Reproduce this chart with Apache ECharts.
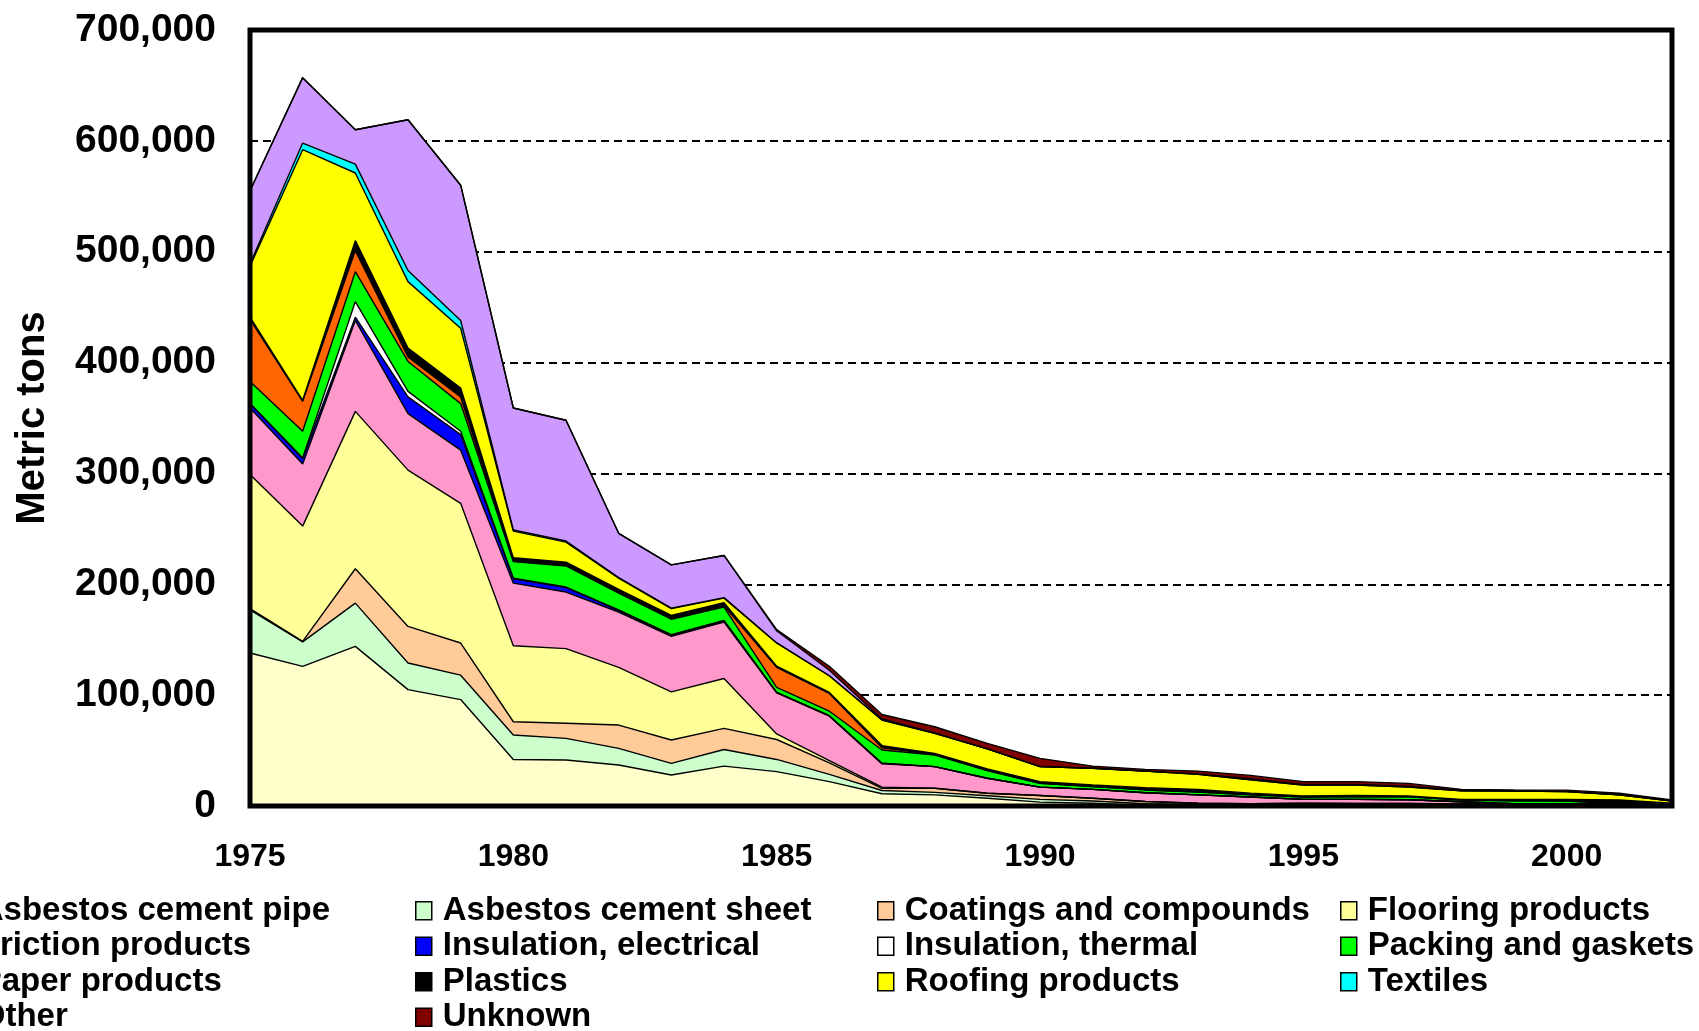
<!DOCTYPE html>
<html>
<head>
<meta charset="utf-8">
<script src="https://cdn.jsdelivr.net/npm/echarts@6/dist/echarts.min.js"></script>
<style>
html,body{margin:0;padding:0;background:#fff;}
#chart{width:1699px;height:1031px;}
</style>
</head>
<body>
<div id="chart"></div>
<script>
// ---- data (metric tons) ----
const years = ['1975','1976','1977','1978','1979','1980','1981','1982','1983','1984','1985','1986','1987','1988','1989','1990','1991','1992','1993','1994','1995','1996','1997','1998','1999','2000','2001','2002'];
const yTicks = [0,100000,200000,300000,400000,500000,600000,700000];

const cementPipe  = [138000,126000,144000,105000,96000,42000,41500,37000,28000,36000,31000,22000,11000,10000,7000,3500,2500,500,500,300,300,300,300,300,300,300,200,200];
const cementSheet = [39000,22000,39000,24000,22000,22000,19500,15000,10500,15000,11000,6500,3000,2300,2300,2500,2000,1500,1000,800,700,700,700,500,500,500,400,300];
const coatings    = [1000,500,31000,33000,29000,12000,13600,21000,21000,19000,18000,10500,2000,3700,2200,3500,2500,2000,1000,1000,1500,1400,1400,1000,1000,1000,800,500];
const flooring    = [121000,104000,142000,141000,126000,68600,67400,52000,43500,45000,5000,2000,1000,0,0,0,0,0,0,0,0,0,0,0,0,0,0,0];
const friction    = [60000,56000,82000,51000,48000,56400,51000,50000,50000,51000,37000,40000,21000,19500,13500,7500,8000,8000,7500,6000,3500,3600,3300,2000,300,200,200,200];
const insElec     = [4000,5000,3000,15000,14000,4000,4000,1500,1000,1000,500,500,500,0,0,0,0,0,0,0,0,0,0,0,0,0,0,0];
const insTherm    = [0,500,14000,5000,3000,500,500,500,500,500,0,0,0,0,0,0,0,0,0,0,0,0,0,0,0,0,0,0];
const packing     = [20000,24000,27000,27000,25000,15000,19000,15000,14000,12000,4600,4000,12000,10500,7000,3500,2500,2500,2500,2000,2000,2500,2500,1500,2500,2500,500,300];
const paper       = [56000,27000,19000,4000,6000,500,500,500,500,1000,18000,16000,2000,500,0,0,0,0,0,0,0,0,0,0,0,0,0,0];
const plastics    = [2000,1000,9000,8000,8000,3000,3000,3000,3000,3000,1000,1000,2000,1000,1500,1500,1500,2000,2500,1500,1000,1000,800,700,1200,1500,3300,1000];
const roofing     = [46000,226000,61000,60000,54000,24000,18000,10000,6000,4000,21000,15000,23000,18000,18000,13500,15000,15000,13500,12000,10000,9500,8000,7800,7600,7000,4600,2000];
const textiles    = [2000,6000,8000,10000,7000,1000,1000,500,500,500,0,0,0,0,0,0,0,0,0,0,0,0,0,0,0,0,0,0];
const other       = [66000,59000,31000,136000,122000,110000,109000,40000,39000,38000,11000,5000,1000,500,0,0,0,0,500,1000,500,500,900,200,0,0,0,0];
const unknown     = [0,0,0,0,0,0,0,0,0,0,1000,3500,4000,5500,5000,7500,2000,1500,2500,3000,2500,2500,2500,1000,1000,1300,1500,900];

const seriesDefs = [
  ['Asbestos cement pipe', cementPipe, '#FFFFCC'],
  ['Asbestos cement sheet', cementSheet, '#CCFFCC'],
  ['Coatings and compounds', coatings, '#FFCC99'],
  ['Flooring products', flooring, '#FFFF99'],
  ['Friction products', friction, '#FF99CC'],
  ['Insulation, electrical', insElec, '#0000FF'],
  ['Insulation, thermal', insTherm, '#FFFFFF'],
  ['Packing and gaskets', packing, '#00FF00'],
  ['Paper products', paper, '#FF6600'],
  ['Plastics', plastics, '#000000'],
  ['Roofing products', roofing, '#FFFF00'],
  ['Textiles', textiles, '#00FFFF'],
  ['Other', other, '#CC99FF'],
  ['Unknown', unknown, '#800000']
];

const legendColumns = [
  ['Asbestos cement pipe','Friction products','Paper products','Other'],
  ['Asbestos cement sheet','Insulation, electrical','Plastics','Unknown'],
  ['Coatings and compounds','Insulation, thermal','Roofing products'],
  ['Flooring products','Packing and gaskets','Textiles']
];
const legendLefts = [-48, 415, 877, 1340];

const FONT = '"Liberation Sans", Arial, Helvetica, sans-serif';

const chart = echarts.init(document.getElementById('chart'), null, {renderer:'canvas'});

const option = {
  backgroundColor: '#ffffff',
  animation: false,
  grid: {
    left: 250, right: 27, top: 30, bottom: 225,
    show: true, borderColor: '#000', borderWidth: 5,
    backgroundColor: 'transparent', z: 10,
    outerBoundsMode: 'none'
  },
  legend: legendColumns.map((names, i) => ({
    data: names,
    orient: 'vertical',
    left: legendLefts[i],
    top: 893,
    width: 460,
    height: 200,
    padding: 0,
    itemGap: 0,
    itemWidth: 16,
    itemHeight: 18,
    icon: 'rect',
    selectedMode: false,
    itemStyle: { borderColor: '#000', borderWidth: 1.5 },
    textStyle: {
      fontSize: 33, fontWeight: 'bold', color: '#000', fontFamily: FONT,
      lineHeight: 35.5, padding: [0,0,0,6]
    }
  })),
  xAxis: {
    type: 'category',
    data: years,
    boundaryGap: false,
    axisLine: { show: false },
    axisTick: { show: false },
    splitLine: { show: false },
    axisLabel: {
      interval: (idx, val) => Number(val) % 5 === 0,
      margin: 35,
      fontSize: 32, fontWeight: 'bold', color: '#000', fontFamily: FONT
    }
  },
  yAxis: {
    type: 'value',
    min: yTicks[0],
    max: yTicks[yTicks.length - 1],
    interval: yTicks[1] - yTicks[0],
    name: 'Metric tons',
    nameLocation: 'middle',
    nameRotate: 90,
    nameGap: 197,
    nameTextStyle: { fontSize: 40, fontWeight: 'bold', color: '#000', fontFamily: FONT },
    axisLine: { show: false },
    axisTick: { show: false },
    axisLabel: {
      margin: 34,
      fontSize: 39, fontWeight: 'bold', color: '#000', fontFamily: FONT,
      formatter: v => v.toLocaleString('en-US')
    },
    splitLine: { show: true, lineStyle: { color: '#000', width: 2, type: [8, 5] } }
  },
  series: seriesDefs.map(([name, data, color]) => ({
    name: name,
    type: 'line',
    stack: 'total',
    data: data,
    symbol: 'none',
    showSymbol: false,
    color: color,
    itemStyle: { color: color },
    lineStyle: { color: '#000', width: 1.4 },
    areaStyle: { color: color, opacity: 1 },
    emphasis: { disabled: true }
  }))
};

chart.setOption(option);
</script>
</body>
</html>
